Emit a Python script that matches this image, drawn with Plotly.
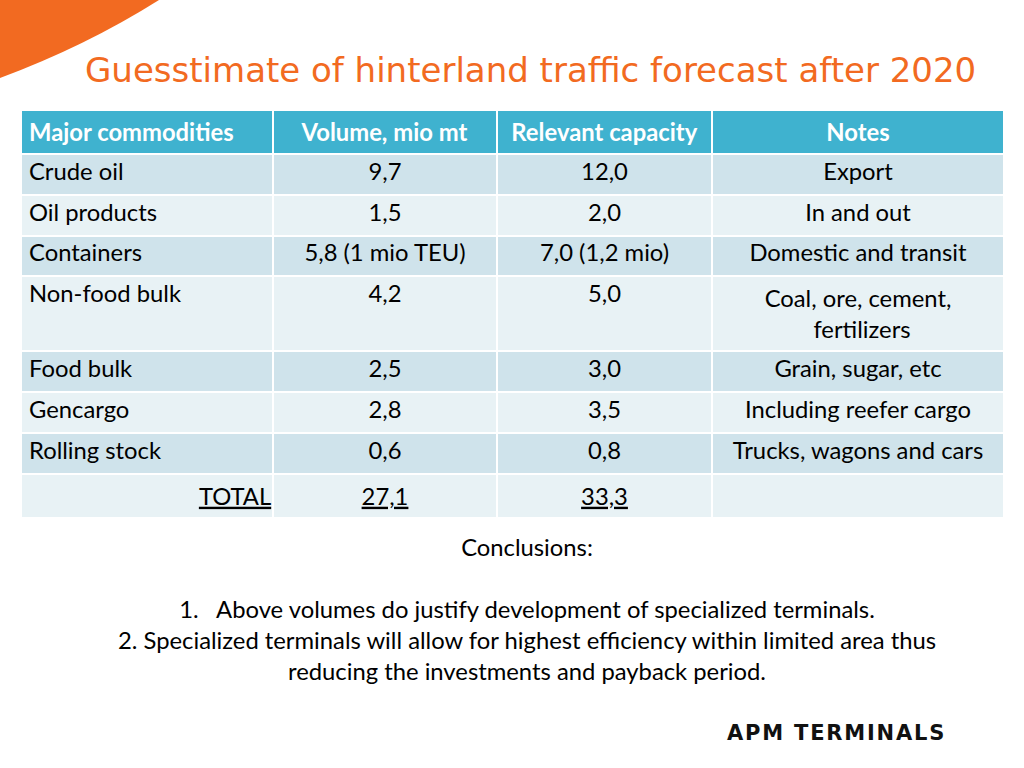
import plotly.graph_objects as go

title = "Guesstimate of hinterland traffic forecast after 2020"
headers = ["Major commodities", "Volume, mio mt", "Relevant capacity", "Notes"]
commodities = ["Crude oil", "Oil products", "Containers", "Non-food bulk", "Food bulk",
               "Gencargo", "Rolling stock", "TOTAL"]
volumes = ["9,7", "1,5", "5,8 (1 mio TEU)", "4,2", "2,5", "2,8", "0,6", "27,1"]
capacity = ["12,0", "2,0", "7,0 (1,2 mio)", "5,0", "3,0", "3,5", "0,8", "33,3"]
notes = ["Export", "In and out", "Domestic and transit",
         "Coal, ore, cement,<br>" + "&nbsp;" * 8 + "fertilizers",
         "Grain, sugar, etc", "Including reefer cargo", "Trucks, wagons and cars", ""]
conclusions = [
    "Conclusions:",
    "",
    "1.   Above volumes do justify development of specialized terminals.",
    "2. Specialized terminals will allow for highest efficiency within limited area thus",
    "reducing the investments and payback period.",
]
logo = "APM TERMINALS"

W, H = 1024, 768
FONT = "Lato"
FS = 23.8
HEADER_BG = "#3fb2cf"
DARK = "#cfe3eb"
LIGHT = "#e8f2f5"

n = len(commodities)
row_fill = [DARK if i % 2 == 0 else LIGHT for i in range(n)]

def total_fmt(col, pad=0):
    out = list(col)
    if out[-1]:
        out[-1] = "&nbsp;" * pad + f"<u>{out[-1]}</u>"
    return out

fig = go.Figure()
fig.add_trace(go.Table(
    domain=dict(x=[21 / W, 1004 / W], y=[0, 1 - 110 / H]),
    columnwidth=[252, 224, 215, 292],
    header=dict(
        values=[f"<b>{h}</b>" for h in headers],
        fill_color=HEADER_BG,
        line=dict(color="white", width=2),
        align=["left", "center", "center", "center"],
        font=dict(family=FONT, size=FS, color="white"),
        height=38,
    ),
    cells=dict(
        values=[total_fmt(commodities, 28), total_fmt(volumes), total_fmt(capacity), notes],
        fill_color=[row_fill] * 4,
        line=dict(color="white", width=2),
        align=["left", "center", "center", "center"],
        font=dict(family=FONT, size=FS, color="black"),
        height=40.8,
    ),
))

# decorative orange corner
fig.add_shape(type="path", xref="paper", yref="paper",
              path=f"M 0 1 L {159 / W} 1 Q {86 / W} {1 - 46 / H} 0 {1 - 78 / H} Z",
              fillcolor="#f26a21", line=dict(width=0), layer="above")

fig.add_annotation(x=530 / W, y=1 - 70 / H, xref="paper", yref="paper",
                   text=title, showarrow=False, xanchor="center", yanchor="middle",
                   font=dict(family="DejaVu Sans", size=34, color="#f26a21"))

fig.add_annotation(x=527 / W, y=1 - 609 / H, xref="paper", yref="paper",
                   text="<br>".join(conclusions), showarrow=False,
                   xanchor="center", yanchor="middle", align="center",
                   font=dict(family=FONT, size=FS, color="black"))

fig.add_annotation(x=836 / W, y=1 - 733 / H, xref="paper", yref="paper",
                   text=f'<b><span style="letter-spacing:1.8px">{logo}</span></b>',
                   showarrow=False, xanchor="center", yanchor="middle",
                   font=dict(family="DejaVu Sans", size=21, color="#111111"))

fig.update_layout(width=W, height=H, margin=dict(l=0, r=0, t=0, b=0),
                  paper_bgcolor="white", plot_bgcolor="white")
fig.write_html("out.html", config={"displayModeBar": False},
               post_script="document.body.style.margin='0';")
